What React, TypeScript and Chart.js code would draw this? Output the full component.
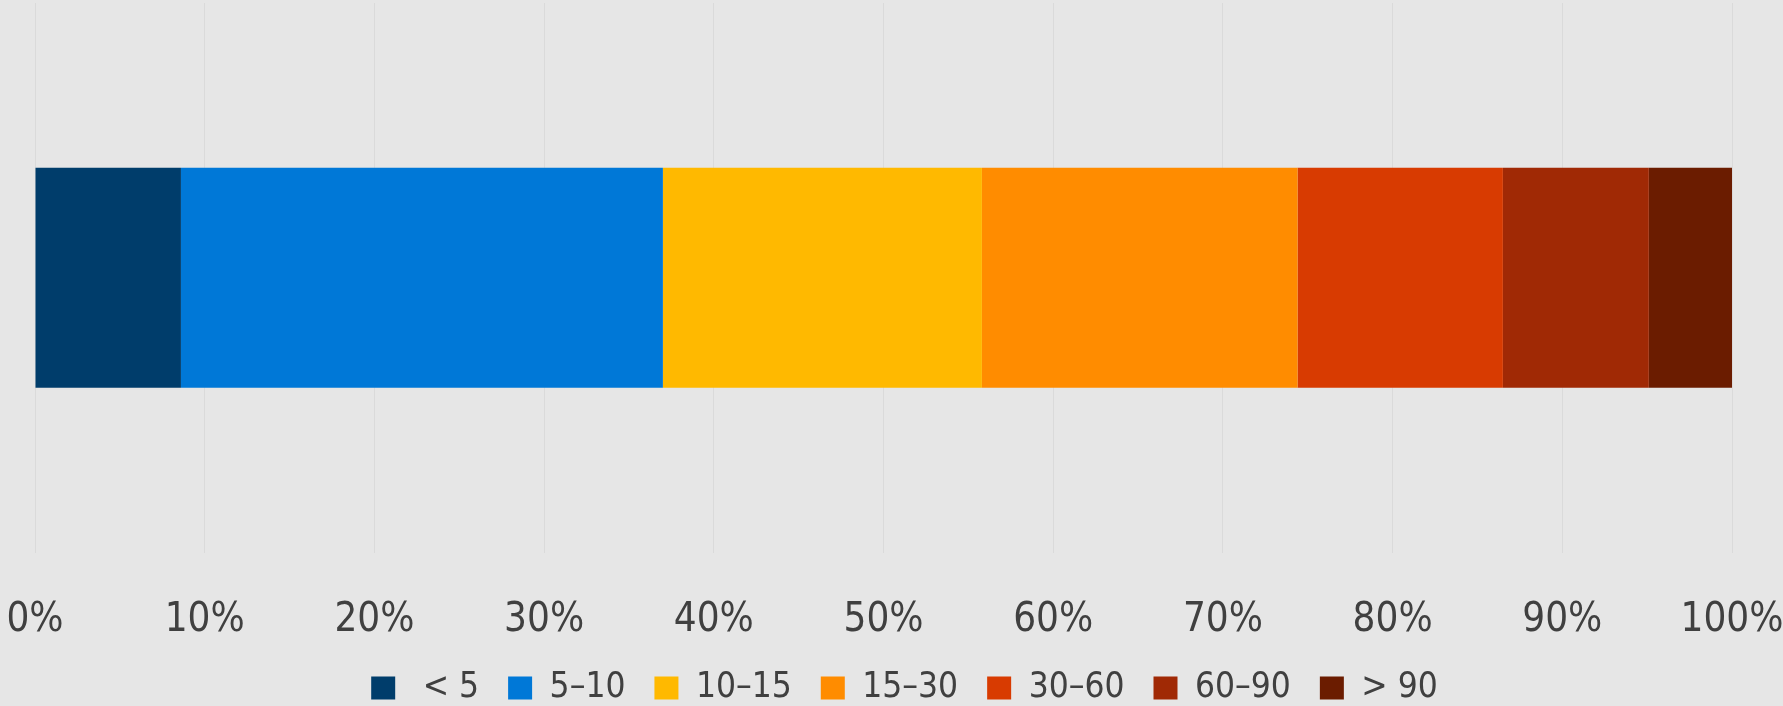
import React, { useEffect, useRef } from "react";
import { Chart, registerables } from "chart.js";

Chart.register(...registerables);

const categories: string[] = [""];
const seriesLabels: string[] = [" < 5", "5–10", "10–15", "15–30", "30–60", "60–90", "> 90"];
const seriesValues: number[] = [8.6, 28.4, 18.8, 18.6, 12.1, 8.6, 4.9];
const seriesColors: string[] = ["#003D6B", "#0078D7", "#FFB900", "#FF8C00", "#D83B01", "#A02905", "#6B1C00"];
const tickValues: number[] = [0, 10, 20, 30, 40, 50, 60, 70, 80, 90, 100];

const FONT = "'DejaVu Sans Condensed', 'DejaVu Sans', sans-serif";

const legendShift = {
  id: "legendShift",
  afterLayout(chart: any) {
    const l = chart.legend;
    if (l) {
      l.left += 21;
      l.right += 21;
    }
  },
};

export default function App() {
  const ref = useRef<HTMLCanvasElement | null>(null);

  useEffect(() => {
    document.body.style.margin = "0";
    document.body.style.background = "#e6e6e6";
    const canvas = ref.current;
    if (!canvas) return;
    const chart = new Chart(canvas, {
      type: "bar",
      data: {
        labels: categories,
        datasets: seriesLabels.map((label, i) => ({
          label,
          data: [seriesValues[i]],
          backgroundColor: seriesColors[i],
          borderWidth: 0,
          categoryPercentage: 0.8,
          barPercentage: 0.5,
        })),
      },
      plugins: [legendShift],
      options: {
        indexAxis: "y",
        animation: false,
        responsive: false,
        maintainAspectRatio: false,
        layout: { padding: { left: 35, right: 51, top: 3, bottom: -9.5 } },
        plugins: {
          tooltip: { enabled: false },
          legend: {
            position: "bottom",
            labels: {
              boxWidth: 24,
              boxHeight: 23,
              padding: 29,
              color: "#404040",
              font: { family: FONT, size: 35 },
            },
          },
        },
        scales: {
          x: {
            stacked: true,
            min: 0,
            max: 100,
            afterBuildTicks: (axis: any) => {
              axis.ticks = tickValues.map((v) => ({ value: v }));
            },
            afterFit: (scale: any) => {
              scale.paddingLeft = 0;
              scale.paddingRight = 0;
              scale.height = scale.height - 47;
            },
            border: { display: false },
            grid: { color: "#dadada", lineWidth: 1, drawTicks: false },
            ticks: {
              padding: 44,
              color: "#404040",
              font: { family: FONT, size: 40 },
              maxRotation: 0,
              autoSkip: false,
              callback: (v: any) => v + "%",
            },
          },
          y: {
            stacked: true,
            display: false,
          },
        },
      },
    });
    return () => chart.destroy();
  }, []);

  return (
    <div style={{ width: 1783, height: 706, background: "#e6e6e6" }}>
      <canvas ref={ref} width={1783} height={706} style={{ display: "block" }} />
    </div>
  );
}
